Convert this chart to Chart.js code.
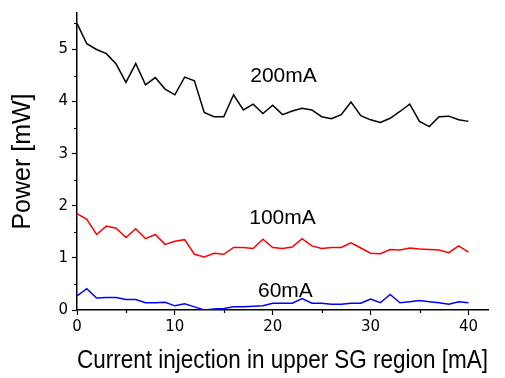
<!DOCTYPE html>
<html>
<head>
<meta charset="utf-8">
<script src="https://cdn.jsdelivr.net/npm/chart.js@4.4.0/dist/chart.umd.min.js"></script>
<style>
  html, body { margin: 0; padding: 0; background: #fff; }
  #wrap { width: 505px; height: 378px; }
</style>
</head>
<body>
<div id="wrap"><canvas id="js--chart"></canvas></div>
<script>
// current in upper SG region [mA]
const current = [
  0, 1, 2, 3, 4, 5, 6, 7, 8, 9, 10, 11, 12, 13, 14, 15, 16, 17, 18, 19, 20,
  21, 22, 23, 24, 25, 26, 27, 28, 29, 30, 31, 32, 33, 34, 35, 36, 37, 38, 39, 40,
];

const power200 = [
  5.5, 5.11, 5.0, 4.92, 4.72, 4.37, 4.73, 4.32, 4.46, 4.24, 4.13,
  4.47, 4.4, 3.79, 3.71, 3.71, 4.13, 3.84, 3.95, 3.77, 3.93,
  3.75, 3.82, 3.87, 3.84, 3.71, 3.67, 3.75, 3.99, 3.73, 3.65,
  3.6, 3.68, 3.81, 3.95, 3.62, 3.52, 3.71, 3.72, 3.65, 3.62,
];

const power100 = [
  1.85, 1.74, 1.45, 1.61, 1.57, 1.39, 1.56, 1.37, 1.45, 1.26, 1.32,
  1.35, 1.07, 1.02, 1.09, 1.07, 1.2, 1.2, 1.18, 1.36, 1.2,
  1.18, 1.21, 1.37, 1.23, 1.18, 1.2, 1.2, 1.29, 1.19, 1.09,
  1.08, 1.16, 1.15, 1.19, 1.17, 1.16, 1.15, 1.1, 1.23, 1.11,
];

const power60 = [
  0.27, 0.41, 0.23, 0.24, 0.24, 0.2, 0.2, 0.14, 0.14, 0.15, 0.08,
  0.12, 0.06, 0.0, 0.02, 0.03, 0.06, 0.06, 0.07, 0.08, 0.13,
  0.13, 0.13, 0.22, 0.13, 0.13, 0.11, 0.11, 0.13, 0.13, 0.21,
  0.14, 0.3, 0.14, 0.16, 0.18, 0.16, 0.14, 0.11, 0.16, 0.14,
];

const xTicks = [0, 10, 20, 30, 40];
const yTicks = [0, 1, 2, 3, 4, 5];

const seriesNames = ["200mA", "100mA", "60mA"];
const seriesColors = ["#000000", "#ff0000", "#0000ff"];
// where the in-plot labels sit, in data units
const labelX = [21.1, 21.0, 21.3];
const labelY = [4.48, 1.77, 0.37];

function toPoints(ys) {
  return current.map((x, i) => ({ x: x, y: ys[i] }));
}

const data = {
  datasets: [power200, power100, power60].map((ys, i) => ({
    label: seriesNames[i],
    data: toPoints(ys),
    borderColor: seriesColors[i],
    borderWidth: 1.5,
    pointRadius: 0,
    tension: 0,
    fill: false,
  })),
};

// short minor ticks + the series labels inside the plot
const extras = {
  id: "extras",
  afterDraw(chart) {
    const ctx = chart.ctx;
    const xs = chart.scales.x;
    const ys = chart.scales.y;
    ctx.save();
    ctx.strokeStyle = "#000";
    ctx.lineWidth = 1.2;
    ctx.beginPath();
    for (let v = 5; v <= 40; v += 10) {
      const px = Math.round(xs.getPixelForValue(v)) + 0.5;
      ctx.moveTo(px, ys.bottom);
      ctx.lineTo(px, ys.bottom + 3);
    }
    for (let v = 0.5; v <= 5.5; v += 1) {
      const py = Math.round(ys.getPixelForValue(v)) + 0.5;
      ctx.moveTo(xs.left, py);
      ctx.lineTo(xs.left - 3, py);
    }
    ctx.stroke();

    ctx.fillStyle = "#000";
    ctx.font = "21px 'Liberation Sans', Arial, sans-serif";
    ctx.textAlign = "center";
    ctx.textBaseline = "middle";
    seriesNames.forEach((name, i) => {
      ctx.fillText(name, xs.getPixelForValue(labelX[i]), ys.getPixelForValue(labelY[i]));
    });
    ctx.restore();
  },
};

const tickFont = { family: "'DejaVu Sans', Verdana, sans-serif", size: 15 };
const titleFont = { family: "'Liberation Sans', Arial, sans-serif", size: 25 };

const config = {
  type: "line",
  data: data,
  options: {
    responsive: true,
    maintainAspectRatio: false,
    animation: false,
    layout: { padding: { top: 10, right: 17, left: 0, bottom: 2 } },
    plugins: {
      legend: { display: false },
      tooltip: { enabled: false },
    },
    scales: {
      x: {
        type: "linear",
        min: 0,
        max: 42,
        afterBuildTicks: (s) => {
          s.ticks = xTicks.map((v) => ({ value: v }));
        },
        afterFit: (s) => {
          s.height = 66;
        },
        ticks: { color: "#000", font: tickFont, padding: 3, maxRotation: 0, autoSkip: false },
        grid: { drawOnChartArea: false, tickLength: 5, tickColor: "#000", tickWidth: 1.2 },
        border: { color: "#000", width: 1.5 },
        title: {
          display: true,
          text: "Current injection in upper SG region [mA]",
          color: "#000",
          font: titleFont,
          padding: { top: 2, bottom: 0 },
        },
      },
      y: {
        min: 0,
        max: 5.7,
        afterBuildTicks: (s) => {
          s.ticks = yTicks.map((v) => ({ value: v }));
        },
        afterFit: (s) => {
          s.width = 77;
        },
        ticks: { color: "#000", font: tickFont, padding: 4, autoSkip: false },
        grid: { drawOnChartArea: false, tickLength: 5, tickColor: "#000", tickWidth: 1.2 },
        border: { color: "#000", width: 1.5 },
        title: {
          display: true,
          text: "Power [mW]",
          color: "#000",
          font: titleFont,
          padding: { top: 8, bottom: 0 },
        },
      },
    },
  },
  plugins: [extras],
};

new Chart(document.getElementById("js--chart"), config);
</script>
</body>
</html>
